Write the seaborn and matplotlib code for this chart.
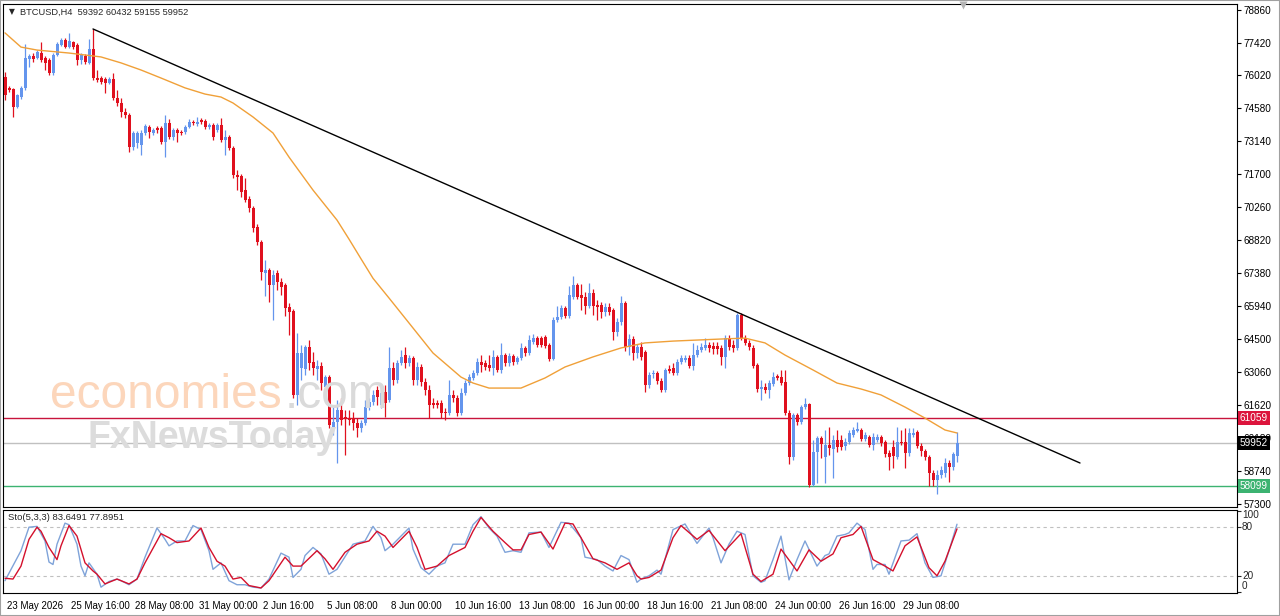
import numpy as np
import matplotlib
matplotlib.use("Agg")
import matplotlib.pyplot as plt
import matplotlib.transforms as mtransforms
from matplotlib.patches import Rectangle
import seaborn as sns

# ---------------- data ----------------
symbol_text = "BTCUSD,H4  59392 60432 59155 59952"
stoch_text = "Sto(5,3,3) 83.6491 77.8951"

opens = [75940, 75460, 75410, 74630, 75060, 75460, 76720, 76850, 76760, 76980,
         76760, 76680, 76110, 76900, 77330, 77550, 77240, 77460, 77330, 76680,
         76850, 76550, 77160, 75890, 75890, 75850, 75670, 75850, 75020, 74800,
         74410, 74280, 72880, 73050, 72970, 73490, 73750, 73490, 73710, 73710,
         73100, 73930, 73320, 73620, 73530, 73530, 73750, 73970, 73880, 74060,
         74020, 73750, 73840, 73620, 73840, 73190, 73320, 72840, 71660, 71610,
         71000, 70610, 70220, 69390, 68730, 67380, 67510, 66860, 67380, 66990,
         66860, 65900, 65720, 62060, 63240, 63190, 64150, 63500, 63190, 63320,
         62410, 62840, 60620, 60880, 61400, 61100, 61050, 61050, 60840, 60620,
         60840, 61530, 61750, 62280, 61620, 62190, 61840, 63240, 62710, 63450,
         63800, 63450, 63670, 62710, 63280, 62630, 62280, 61710, 61710, 61710,
         61320, 61270, 62060, 61930, 61270, 62140, 62580, 62800, 63020, 63500,
         63450, 63370, 63240, 63720, 63150, 63800, 63450, 63760, 63500, 63670,
         64110, 63890, 64370, 64540, 64540, 64590, 64240, 63630, 65330, 65460,
         65850, 65500, 66330, 66860, 66420, 66330, 65940, 66510, 65990, 65990,
         65680, 65900, 65770, 64810, 65240, 66070, 64150, 64500, 63890, 64150,
         63930, 62490, 62970, 63020, 62670, 62280, 63190, 63240, 63020, 63500,
         63590, 63670, 63320, 63800, 64020, 64110, 64240, 64200, 64200, 64110,
         63720, 64540, 64240, 64110, 65550, 64540, 64330, 64110, 63370, 62320,
         62410, 62280, 62540, 62890, 62840, 62630, 61270, 59350, 61180, 60880,
         61530, 61660, 58130, 59570, 60180, 59350, 59880, 59700, 60090, 60090,
         59830, 60010, 60310, 60490, 60530, 60140, 60220, 59880, 60090, 60220,
         60010, 59530, 59790, 59350, 60010, 60010, 59530, 60310, 60440, 59830,
         59610, 59350, 58650, 58350, 58570, 58650, 59090, 58910, 59392]

highs = [76150, 75540, 75460, 75190, 75540, 77380, 76940, 76980, 77110, 77460,
         76850, 76760, 76980, 77460, 77640, 77640, 77860, 77510, 77420, 76980,
         76940, 77590, 78030, 76240, 75980, 75940, 75940, 76110, 75370, 75020,
         74580, 74360, 73580, 73580, 73620, 73880, 73840, 73710, 73800, 73800,
         74280, 74100, 73710, 73710, 73620, 73840, 74100, 74060, 74190, 74150,
         74100, 73930, 73930, 73930, 74150, 73620, 73400, 72920, 71880, 71700,
         71530, 70740, 70310, 69520, 68820, 67950, 67600, 67510, 67510, 67160,
         66950, 66070, 65810, 64760, 64240, 64240, 64460, 63930, 63590, 63500,
         62930, 62930, 61620, 61840, 61930, 61400, 61400, 61320, 61050, 60970,
         61840, 61930, 62280, 62450, 62360, 62490, 64150, 63500, 63590, 64020,
         64150, 63800, 63760, 63500, 63410, 62800, 62490, 61930, 61840, 61840,
         61490, 62710, 62280, 62060, 62360, 62710, 62970, 63150, 63670, 63800,
         63590, 63800, 64020, 63800, 64330, 63890, 63890, 63850, 63760, 64330,
         64200, 64680, 64720, 64630, 64630, 64680, 64330, 65460, 65940, 65990,
         65940, 66810, 67250, 66950, 66900, 66550, 66950, 66680, 66200, 66120,
         66070, 66070, 65850, 65420, 66380, 66160, 64720, 64630, 64280, 64370,
         64020, 63060, 63150, 63100, 62800, 63240, 63370, 63450, 63630, 63800,
         63800, 63800, 64330, 64240, 64330, 64540, 64370, 64370, 64370, 64240,
         64680, 64680, 64460, 65640, 65640, 64680, 64460, 64240, 63450, 62710,
         62580, 62710, 63060, 62970, 63150, 63150, 61400, 61270, 61270, 61620,
         61930, 61710, 60090, 60270, 60270, 60530, 60660, 60310, 60530, 60310,
         60180, 60530, 60660, 60880, 60620, 60440, 60310, 60400, 60360, 60310,
         60090, 59660, 60090, 60660, 60530, 60620, 60620, 60620, 60530, 59960,
         59700, 59440, 58780, 58780, 58960, 59310, 59220, 59570, 60432]

lows = [74930, 75280, 74190, 74580, 74980, 75370, 76370, 76590, 76720, 76590,
        76240, 76020, 76020, 76850, 77290, 77200, 77200, 77160, 76460, 76500,
        76500, 76500, 75800, 75720, 75630, 75240, 75630, 74930, 74670, 74190,
        74150, 72660, 72750, 72840, 72530, 73400, 73270, 73400, 73490, 73010,
        72440, 73230, 73190, 73100, 73400, 73450, 73710, 73840, 73800, 73880,
        73670, 73670, 73190, 73530, 73100, 72530, 72750, 71530, 71000, 70700,
        70480, 70040, 69170, 68600, 67080, 66380, 66120, 65330, 66640, 66420,
        65500, 64680, 61930, 61620, 62710, 62930, 63150, 62930, 62710, 62280,
        62060, 60620, 60310, 59090, 60750, 59440, 60750, 60530, 60220, 60440,
        60750, 61400, 61620, 61620, 61490, 61100, 61750, 62490, 62580, 63370,
        63240, 63320, 62490, 62490, 62450, 62060, 61050, 61490, 61490, 61050,
        60970, 61180, 61750, 61140, 61180, 62060, 62490, 62710, 62930, 63060,
        63150, 63100, 62930, 63060, 63020, 63320, 63320, 63370, 63410, 63590,
        63760, 63800, 64280, 64150, 64150, 64110, 63540, 63590, 65240, 65370,
        65420, 65420, 66250, 66250, 65770, 65590, 65850, 65550, 65330, 65420,
        65500, 65550, 64460, 64630, 65110, 63980, 63800, 63590, 63670, 63590,
        62190, 62360, 62800, 62540, 62190, 62190, 63020, 62930, 62930, 63410,
        63500, 63240, 63150, 63720, 63930, 64020, 63930, 63850, 63850, 63370,
        63240, 64020, 63930, 64020, 64460, 64240, 64020, 63240, 62190, 61840,
        62140, 61930, 62450, 62710, 62490, 61180, 59050, 59220, 60750, 60790,
        61450, 58040, 58090, 58220, 59310, 58220, 59440, 58440, 59570, 59660,
        59660, 59920, 60220, 60440, 60050, 60050, 59790, 59660, 60010, 59830,
        59350, 58780, 58870, 59260, 59880, 58870, 59400, 60220, 59740, 59400,
        59220, 58090, 58090, 57740, 58440, 58480, 58260, 58780, 59155]

closes = [75150, 75370, 74630, 75150, 75460, 76760, 76850, 76720, 77030, 76680,
          76550, 76110, 76900, 77380, 77550, 77240, 77510, 77240, 76680, 76900,
          76590, 77160, 75890, 75800, 75720, 75670, 75850, 75020, 74800, 74410,
          74280, 72880, 73490, 73490, 73490, 73800, 73530, 73620, 73620, 73100,
          73930, 73320, 73620, 73490, 73490, 73750, 73970, 73930, 73970, 73970,
          73750, 73840, 73320, 73840, 73190, 73320, 72840, 71660, 71570, 70920,
          70570, 70220, 69350, 68730, 67430, 67510, 66860, 67290, 66990, 66770,
          65850, 65680, 62060, 63890, 63890, 64150, 63450, 63240, 63320, 62580,
          62840, 60750, 60880, 61400, 60970, 61010, 60970, 60840, 60620, 60840,
          61530, 61750, 62060, 61970, 62140, 61710, 63240, 62710, 63450, 63720,
          63450, 63670, 62710, 63280, 62630, 62280, 61620, 61620, 61620, 61270,
          61270, 62060, 61930, 61270, 62140, 62580, 62840, 63020, 63500, 63370,
          63280, 63240, 63720, 63150, 63800, 63450, 63760, 63500, 63670, 64110,
          63890, 64460, 64540, 64240, 64240, 64200, 63630, 65330, 65460, 65850,
          65500, 66420, 66860, 66330, 66290, 65940, 66510, 65940, 65900, 65680,
          65900, 65680, 64810, 65240, 66070, 64150, 64500, 63890, 64150, 63720,
          62490, 62930, 63020, 62670, 62280, 63150, 63100, 63020, 63500, 63670,
          63670, 63320, 63800, 64020, 64150, 64240, 64110, 64070, 64070, 63720,
          64540, 64150, 64110, 65550, 64540, 64330, 64150, 63320, 62320, 62410,
          62280, 62580, 62840, 62800, 62580, 61270, 59350, 61180, 60880, 61530,
          61660, 58130, 59570, 60180, 59920, 59880, 59740, 60090, 59790, 59790,
          60010, 60400, 60530, 60570, 60140, 60310, 59880, 60220, 60220, 59960,
          59480, 59350, 59400, 60010, 59960, 59530, 60400, 60400, 59830, 59610,
          59350, 58650, 58350, 58570, 58780, 59090, 58910, 59480, 59952]

ma_bar = [0, 4, 8, 16, 24, 29, 34, 39, 45, 50, 54, 57, 62, 67, 71, 77, 83, 86, 89,
          92, 96, 101, 107, 114, 117, 121, 129, 135, 140, 147, 154, 160, 167, 179,
          185, 190, 195, 202, 208, 214, 219, 225, 230, 235, 238]
ma_val = [77860, 77240, 77110, 76980, 76810, 76550, 76240, 75890, 75460, 75190,
          75060, 74800, 74190, 73490, 72440, 71000, 69690, 68860, 68000, 67150,
          66290, 65200, 63890, 62840, 62580, 62360, 62360, 62800, 63280, 63720,
          64110, 64330, 64410, 64500, 64540, 64330, 63800, 63150, 62580, 62320,
          62060, 61530, 61050, 60530, 60400]

trend_bar = [22, 268.75]
trend_val = [78030, 59090]

level_resist = 61059
level_last = 59952
level_support = 58099

price_ticks = [78860, 77420, 76020, 74580, 73140, 71700, 70260, 68820, 67380,
               65940, 64500, 63060, 61620, 60180, 58740, 57300]

time_label_bars = [0, 16, 32, 48, 64, 80, 96, 112, 128, 144, 160, 176, 192, 208, 224]
time_labels = ["23 May 2026", "25 May 16:00", "28 May 08:00", "31 May 00:00",
               "2 Jun 16:00", "5 Jun 08:00", "8 Jun 00:00", "10 Jun 16:00",
               "13 Jun 08:00", "16 Jun 00:00", "18 Jun 16:00", "21 Jun 08:00",
               "24 Jun 00:00", "26 Jun 16:00", "29 Jun 08:00"]

k_bar = [0, 4, 6, 8, 10, 11, 12, 13, 15, 16, 18, 19, 20, 21, 23, 24, 26, 28, 29, 31,
         33, 35, 38, 40, 41, 43, 45, 47, 49, 51, 52, 54, 56, 58, 60, 62, 64, 66, 69, 71,
         72, 74, 75, 77, 79, 81, 83, 87, 90, 92, 94, 95, 97, 101, 102, 104, 106, 108,
         110, 112, 115, 117, 119, 121, 123, 125, 127, 129, 131, 134, 136, 139, 141,
         144, 145, 148, 150, 152, 154, 156, 158, 159, 161, 163, 164, 167, 170, 173,
         176, 177, 179, 181, 183, 185, 187, 189, 190, 192, 194, 196, 198, 200, 203,
         205, 206, 208, 210, 211, 213, 215, 217, 218, 220, 221, 224, 226, 228, 230,
         232, 234, 236, 238]
k_val = [14, 51, 80, 81, 63, 37, 34, 59, 85, 83, 59, 32, 20, 36, 22, 6, 13, 16, 14, 9,
         16, 43, 79, 65, 57, 63, 63, 82, 77, 51, 28, 36, 14, 9, 9, 6, 5, 16, 48, 43,
         18, 28, 45, 55, 47, 22, 28, 59, 63, 81, 67, 51, 59, 79, 53, 30, 22, 32,
         36, 59, 59, 83, 93, 79, 69, 49, 51, 49, 73, 74, 55, 86, 85,
         67, 43, 40, 32, 26, 45, 40, 12, 16, 20, 27, 22, 77, 84, 60,
         79, 67, 36, 59, 75, 71, 20, 12, 14, 40, 69, 15, 40, 63, 32,
         45, 47, 69, 71, 73, 85, 77, 28, 34, 34, 22, 63, 64, 72, 36,
         18, 20, 51, 83.65]

d_bar = [0, 2, 4, 6, 8, 9, 11, 13, 14, 16, 18, 20, 22, 23, 25, 27, 28, 31, 33, 35,
         39, 41, 43, 46, 49, 51, 53, 55, 57, 59, 61, 64, 66, 70, 72, 74, 78, 80, 82, 85,
         88, 91, 93, 95, 97, 101, 103, 105, 108, 111, 115, 117, 119, 122, 125, 127,
         129, 131, 134, 137, 140, 142, 144, 147, 150, 153, 156, 158, 159, 161, 164,
         167, 169, 173, 176, 180, 184, 187, 189, 192, 194, 198, 201, 204, 207, 209,
         212, 214, 217, 220, 222, 225, 228, 231, 233, 235, 238]
d_val = [17, 16, 32, 65, 80, 75, 55, 40, 57, 82, 69, 36, 26, 22, 10, 14, 16, 10, 16, 36,
         72, 67, 61, 63, 79, 55, 38, 32, 16, 18, 8, 5, 14, 43, 32, 32, 51, 41, 28, 49,
         59, 63, 75, 69, 55, 75, 55, 28, 32, 45, 55, 75, 92, 75, 61, 52,
         52, 71, 74, 53, 85, 84, 67, 41, 36, 28, 36, 20, 16, 18, 27,
         67, 82, 65, 76, 51, 72, 22, 13, 22, 53, 26, 52, 38, 47, 67,
         71, 81, 40, 32, 26, 57, 68, 30, 20, 38, 77.9]

stoch_levels = [80, 20]

assert len(opens) == len(highs) == len(lows) == len(closes)
assert len(ma_bar) == len(ma_val)
assert len(k_bar) == len(k_val) and len(d_bar) == len(d_val)

# ---------------- style ----------------
sns.set_style("white")
plt.rcParams['font.family'] = ['Liberation Sans', 'DejaVu Sans']
plt.rcParams['axes.linewidth'] = 0.8

BULL = '#6495ED'
BEAR = '#E0101E'

W, H = 1280, 616
fig = plt.figure(figsize=(W / 100, H / 100), dpi=100)
fig.patch.set_facecolor('white')


def fx(px):
    return px / W


def fy(py):
    return 1 - py / H


ax = fig.add_axes([fx(3), fy(507), fx(1234), 503 / H])
ax2 = fig.add_axes([fx(3), fy(593), fx(1234), 83 / H])

o = np.array(opens, float)
h = np.array(highs, float)
l = np.array(lows, float)
c = np.array(closes, float)
x = np.arange(len(c))
cols = np.where(c >= o, BULL, BEAR)

# watermark (behind)
fig.text(fx(50), fy(408), "economies", fontsize=34.5, color='#fcd6bb',
         family='Liberation Sans', va='baseline', ha='left', zorder=0)
fig.text(fx(285), fy(408), ".com", fontsize=34.5, color='#dadada',
         family='Liberation Sans', va='baseline', ha='left', zorder=0)
fig.text(fx(88), fy(448), "FxNewsToday", fontsize=27, color='#dcdcdc',
         family='Liberation Sans', weight='bold', va='baseline', ha='left', zorder=0)
ax.set_facecolor('none')
ax2.set_facecolor('none')

# candles
ax.vlines(x, l, h, colors=cols, lw=0.9, zorder=3)
ax.bar(x, np.maximum(np.abs(c - o), 45), bottom=np.minimum(o, c), width=0.75,
       color=cols, linewidth=0, zorder=4)

# moving average and trend line
sns.lineplot(x=ma_bar, y=ma_val, ax=ax, color='#f0a038', lw=1.0, sort=False,
             estimator=None, zorder=5)
sns.lineplot(x=trend_bar, y=trend_val, ax=ax, color='black', lw=1.0, sort=False,
             estimator=None, zorder=6)

# horizontal levels
ax.axhline(level_resist, color='#c8143c', lw=1.0, zorder=2)
ax.axhline(level_last, color='#c0c0c0', lw=1.0, zorder=2)
ax.axhline(level_support, color='#3cb371', lw=1.0, zorder=2)

ax.set_xlim(-0.5, 308)
ax.set_ylim(57170, 79120)
ax.set_xticks([])
ax.yaxis.tick_right()
ax.set_yticks(price_ticks)
ax.set_yticklabels([str(t) for t in price_ticks])
ax.tick_params(axis='y', direction='out', length=3, width=0.8, pad=2,
               labelsize=7.2, colors='black')
for s in ax.spines.values():
    s.set_color('black')
    s.set_linewidth(0.8)

trans = mtransforms.blended_transform_factory(ax.transAxes, ax.transData)
for val, fc in [(level_resist, '#dc143c'), (level_last, '#000000'),
                (level_support, '#3cb371')]:
    ax.text(1.0 + 3 / 1234, val, str(val), transform=trans, ha='left', va='center',
            fontsize=7.2, color='white', clip_on=False, zorder=10,
            bbox=dict(boxstyle='square,pad=0.18', fc=fc, ec='none'))

# title text
ax.text(6 / 1234, 1 - 8 / 503, "\u25BC", transform=ax.transAxes, fontsize=5.5,
        ha='left', va='center', family=['DejaVu Sans'])
ax.text(17 / 1234, 1 - 8 / 503, symbol_text, transform=ax.transAxes, fontsize=6.7,
        ha='left', va='center')
# chart shift marker
ax.plot([239.5], [79120 - 60], marker='v', ms=6, color='#b4b4b4', clip_on=False,
        zorder=7, mec='none')

# stochastic panel
for lv in stoch_levels:
    ax2.axhline(lv, color='#c0c0c0', lw=0.8, ls=(0, (3, 3)), zorder=1)
sns.lineplot(x=k_bar, y=k_val, ax=ax2, color='#7fa3d9', lw=1.0, sort=False,
             estimator=None, zorder=3)
sns.lineplot(x=d_bar, y=d_val, ax=ax2, color='#d4102c', lw=1.0, sort=False,
             estimator=None, zorder=4)
ax2.set_xlim(-0.5, 308)
ax2.set_ylim(-1.2, 101.2)
ax2.yaxis.tick_right()
ax2.set_yticks([0, 20, 80, 100])
ax2.set_yticklabels([])
ax2.tick_params(axis='y', direction='out', length=3, width=0.8)
trans2 = mtransforms.blended_transform_factory(ax2.transAxes, ax2.transData)
for lab, v in [("100", 95), ("80", 80), ("20", 20), ("0", 7)]:
    ax2.text(1.0 + 5 / 1234, v, lab, transform=trans2, ha='left', va='center',
             fontsize=7.2, clip_on=False)
ax2.text(5 / 1234, 1 - 8 / 83, stoch_text, transform=ax2.transAxes, fontsize=6.8,
         ha='left', va='center')
ax2.set_xticks(time_label_bars)
ax2.set_xticklabels(time_labels, ha='left')
ax2.tick_params(axis='x', direction='out', length=4, width=0.8, pad=2,
                labelsize=7.0, colors='black')
offset = mtransforms.ScaledTranslation(2 / 100, 0, fig.dpi_scale_trans)
for lab in ax2.get_xticklabels():
    lab.set_transform(lab.get_transform() + offset)
for s in ax2.spines.values():
    s.set_color('black')
    s.set_linewidth(0.8)
ax.set_xlabel('')
ax.set_ylabel('')
ax2.set_xlabel('')
ax2.set_ylabel('')

# outer border
fig.patches.append(Rectangle((0, 0), 1, 1, transform=fig.transFigure, fill=False,
                             ec='#a0a0a0', lw=1.5, zorder=20))

fig.savefig("out.png", dpi=100, facecolor='white')
